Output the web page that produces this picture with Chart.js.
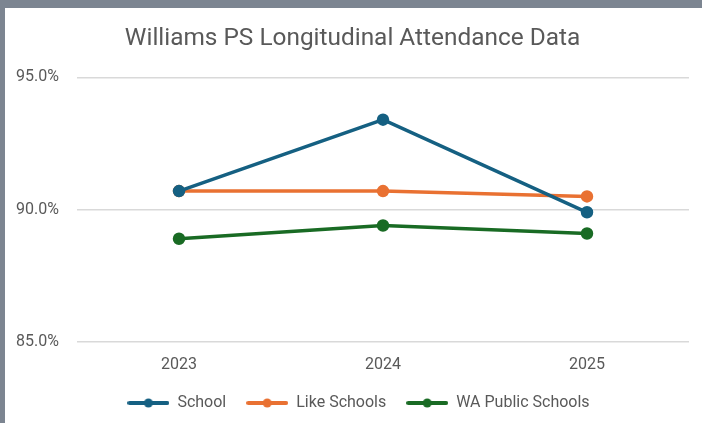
<!DOCTYPE html>
<html>
<head>
<meta charset="utf-8">
<script src="https://cdn.jsdelivr.net/npm/chart.js@4/dist/chart.umd.min.js"></script>
<style>
  html, body { margin: 0; padding: 0; }
  body { width: 702px; height: 423px; background: #7c8591; overflow: hidden; position: relative; }
  #panel { position: absolute; left: 5px; top: 8px; width: 697px; height: 415px; background: #fff; }
  canvas { display: block; }
</style>
</head>
<body>
<div id="panel"><canvas id="chart" width="697" height="415"></canvas></div>
<script>
// ── DATA ─────────────────────────────────────────────────────────────
const years = ["2023", "2024", "2025"]
const school = [90.7, 93.4, 89.9]
const likeSchools = [90.7, 90.7, 90.5]
const waPublic = [88.9, 89.4, 89.1]

const FONT = "Roboto"
const GREY = "#595959"

// legend marker: line with a dot in the middle
function marker(color) {
  const c = document.createElement("canvas")
  c.width = 42; c.height = 10
  const g = c.getContext("2d")
  g.strokeStyle = color; g.lineWidth = 4; g.lineCap = "round"
  g.beginPath(); g.moveTo(2, 5); g.lineTo(40, 5); g.stroke()
  g.fillStyle = color
  g.beginPath(); g.arc(21, 5, 4.5, 0, Math.PI * 2); g.fill()
  return c
}

function series(label, data, color) {
  return {
    label, data,
    borderColor: color, backgroundColor: color,
    borderWidth: 3.5, pointRadius: 4.5, pointHoverRadius: 4.5,
    tension: 0, marker: marker(color)
  }
}

// legend sits a little right of centre (and a touch higher) in the original
const legendNudge = {
  id: "legendNudge",
  afterLayout(chart) {
    const lg = chart.legend
    lg.left += 12
    lg.top -= 2
    lg.bottom -= 2
  }
}

new Chart(document.getElementById("chart"), {
  type: "line",
  data: {
    labels: years,
    datasets: [
      series("School", school, "#156082"),
      series("Like Schools", likeSchools, "#E97132"),
      series("WA Public Schools", waPublic, "#196B24")
    ]
  },
  plugins: [legendNudge],
  options: {
    responsive: false,
    animation: false,
    layout: { padding: { left: 11, right: 13, top: 12, bottom: 0 } },
    plugins: {
      title: {
        display: true,
        text: "Williams PS Longitudinal Attendance Data",
        color: GREY,
        font: { family: FONT, size: 24.4, weight: "normal" },
        padding: { top: 4, bottom: 24 }
      },
      legend: {
        position: "bottom",
        labels: {
          color: GREY,
          font: { family: FONT, size: 16 },
          usePointStyle: true,
          pointStyleWidth: 42,
          boxHeight: 10,
          padding: 20,
          generateLabels: chart => chart.data.datasets.map((ds, i) => ({
            text: ds.label,
            pointStyle: ds.marker,
            fontColor: GREY,
            strokeStyle: ds.borderColor,
            fillStyle: ds.borderColor,
            lineWidth: 0,
            datasetIndex: i
          }))
        }
      },
      tooltip: { enabled: false }
    },
    scales: {
      x: {
        offset: true,
        grid: { display: false, drawTicks: false },
        border: { display: false },
        afterFit: s => { s.height = 35 },
        ticks: { color: GREY, font: { family: FONT, size: 16 }, padding: 13 }
      },
      y: {
        min: 85, max: 95,
        grid: { color: "#d9d9d9", lineWidth: 1.5, drawTicks: false },
        border: { display: false },
        afterFit: s => { s.width = 61 },
        ticks: {
          stepSize: 5,
          color: GREY,
          crossAlign: "far",
          padding: 6,
          font: { family: FONT, size: 16 },
          callback: v => v.toFixed(1) + "%"
        }
      }
    }
  }
})
</script>
</body>
</html>
